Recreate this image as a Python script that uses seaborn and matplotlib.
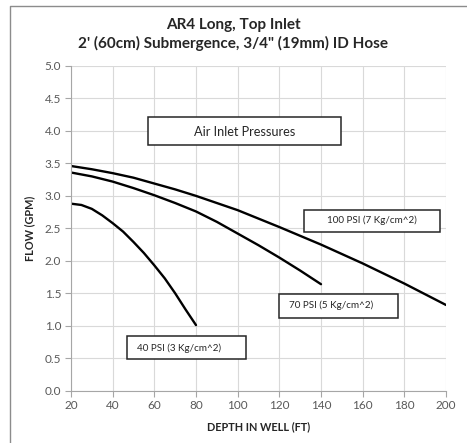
import matplotlib
matplotlib.use("Agg")
from matplotlib import pyplot as plt
from matplotlib.patches import Rectangle
from matplotlib.lines import Line2D
import seaborn as sns
import pandas as pd

# values
depth_40 = [20, 25, 30, 35, 40, 45, 50, 55, 60, 65, 70, 75, 80]
flow_40 = [2.88, 2.86, 2.80, 2.70, 2.58, 2.45, 2.29, 2.12, 1.93, 1.73, 1.50, 1.25, 1.01]

depth_70 = [20, 30, 40, 50, 60, 70, 80, 90, 100, 110, 120, 130, 140]
flow_70 = [3.36, 3.30, 3.22, 3.12, 3.01, 2.89, 2.76, 2.60, 2.42, 2.24, 2.05, 1.85, 1.64]

depth_100 = [20, 30, 40, 50, 60, 70, 80, 90, 100, 120, 140, 160, 180, 200]
flow_100 = [3.46, 3.41, 3.35, 3.28, 3.19, 3.10, 3.00, 2.89, 2.78, 2.52, 2.25, 1.96, 1.65, 1.32]

series_names = ["40 PSI (3 Kg/cm^2)", "70 PSI (5 Kg/cm^2)", "100 PSI (7 Kg/cm^2)"]
label_x = [71.8, 144.7, 164.3]
label_y = [0.66, 1.31, 2.62]
# text box extents (x0, x1, y0, y1)
label_boxes = [(46.9, 104.0, 0.49, 0.85), (119.9, 177.0, 1.12, 1.49), (131.9, 197.1, 2.45, 2.78)]

rows = []
for name, xs, ys in zip(series_names, [depth_40, depth_70, depth_100], [flow_40, flow_70, flow_100]):
    for x, y in zip(xs, ys):
        rows.append({'Depth': x, 'Flow': y, 'Pressure': name})
df = pd.DataFrame(rows)

sns.set_style('white')
plt.rcParams['font.family'] = ['Lato', 'DejaVu Sans']

fig = plt.figure(figsize=(4.67, 4.43), dpi=100)
# outer chart border (only left and top visible, like the reference)
fig.lines.append(Line2D([9.5 / 467, 9.5 / 467, 1.0], [0.0, 1 - 5.5 / 443, 1 - 5.5 / 443],
                        transform=fig.transFigure, color='#8c8c8c', linewidth=1.0))
ax = fig.add_axes([71 / 467, (443 - 390.7) / 443, 375 / 467, 324.7 / 443])

sns.lineplot(data=df, x='Depth', y='Flow', hue='Pressure', palette=['black'] * 3,
             linewidth=1.7, legend=False, ax=ax)

ax.set_xlim(20, 200)
ax.set_ylim(0, 5)
ax.set_xticks(range(20, 201, 20))
ax.set_yticks([i / 2 for i in range(11)])
ax.set_yticklabels(['{:.1f}'.format(i / 2) for i in range(11)])
ax.grid(True, color='#d9d9d9', linewidth=0.8)
for s in ['top', 'right']:
    ax.spines[s].set_visible(False)
for s in ['left', 'bottom']:
    ax.spines[s].set_color('#a6a6a6')
    ax.spines[s].set_linewidth(0.8)
ax.tick_params(axis='both', colors='#a6a6a6', length=4, width=0.8, labelsize=8.5,
               labelcolor='#595959', direction='out', bottom=True, left=True, pad=3)

ax.set_xlabel('DEPTH IN WELL (FT)', fontsize=7.8, fontweight='bold', color='#262626', labelpad=7)
ax.set_ylabel('FLOW (GPM)', fontsize=7.8, fontweight='bold', color='#262626', labelpad=7)
fig.text(0.5, 1 - 25 / 443, "AR4 Long, Top Inlet", ha='center', va='center',
         fontsize=11, fontweight='bold', color='#262626')
fig.text(0.5, 1 - 43.5 / 443, "2' (60cm) Submergence, 3/4\" (19mm) ID Hose", ha='center', va='center',
         fontsize=11, fontweight='bold', color='#262626')

ax.add_patch(Rectangle((57, 3.78), 149.6 - 57, 4.21 - 3.78, facecolor='white',
                       edgecolor='#262626', linewidth=1.1, zorder=5))
ax.text(103.3, 3.98, 'Air Inlet Pressures', ha='center', va='center', fontsize=9.2,
        color='#262626', zorder=6)
for name, x, y, (x0, x1, y0, y1) in zip(series_names, label_x, label_y, label_boxes):
    ax.add_patch(Rectangle((x0, y0), x1 - x0, y1 - y0, facecolor='white',
                           edgecolor='#262626', linewidth=1.1, zorder=5))
    ax.text(x, y, name, ha='center', va='center', fontsize=7.1, color='#262626', zorder=6)

plt.savefig('out.png', dpi=100)
